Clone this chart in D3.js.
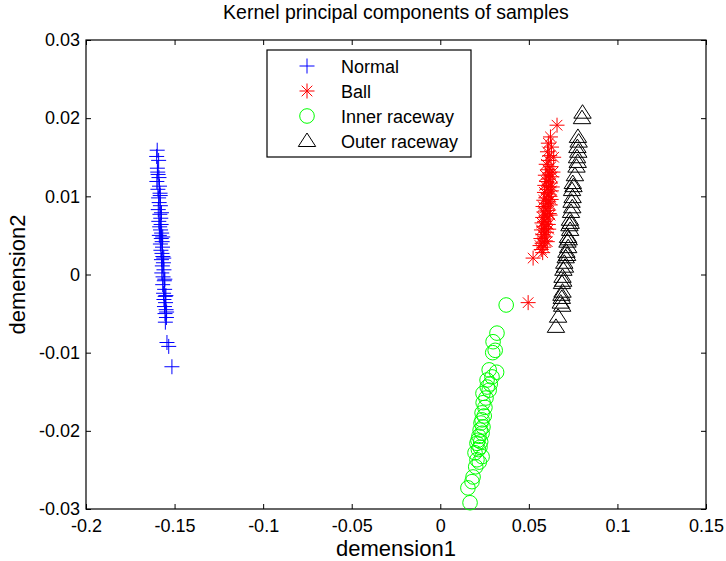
<!DOCTYPE html>
<html>
<head>
<meta charset="utf-8">
<script src="https://cdn.jsdelivr.net/npm/d3@7"></script>
<style>
  body { margin: 0; background: #fff; }
  svg text { font-family: "Liberation Sans", Arial, sans-serif; }
</style>
</head>
<body>
<svg id="chart" width="726" height="561"></svg>
<script>
// x, y pairs
const normal = [
  [-0.1598,0.0159],[-0.1601,0.0151],[-0.1590,0.0146],[-0.1597,0.0136],[-0.1593,0.0128],
  [-0.1588,0.0124],[-0.1600,0.0119],[-0.1585,0.0113],[-0.1594,0.0109],[-0.1582,0.0104],
  [-0.1590,0.0098],[-0.1587,0.0092],[-0.1580,0.0088],[-0.1592,0.0083],[-0.1583,0.0077],
  [-0.1578,0.0072],[-0.1589,0.0068],[-0.1576,0.0064],[-0.1584,0.0061],[-0.1579,0.0057],
  [-0.1573,0.0053],[-0.1586,0.0050],[-0.1575,0.0046],[-0.1570,0.0042],[-0.1580,0.0039],
  [-0.1568,0.0035],[-0.1577,0.0031],[-0.1571,0.0027],[-0.1566,0.0023],[-0.1574,0.0019],
  [-0.1563,0.0015],[-0.1569,0.0011],[-0.1560,0.0006],[-0.1572,0.0002],[-0.1565,-0.0003],
  [-0.1558,-0.0008],[-0.1567,-0.0013],[-0.1556,-0.0019],[-0.1562,-0.0024],[-0.1553,-0.0028],
  [-0.1560,-0.0032],[-0.1551,-0.0036],[-0.1557,-0.0041],[-0.1548,-0.0045],[-0.1554,-0.0050],
  [-0.1546,-0.0055],[-0.1552,-0.0061],[-0.1543,-0.0087],[-0.1533,-0.0092],[-0.1515,-0.0118],
  [-0.1595,0.0131],[-0.1581,0.0101],[-0.1574,0.0079],[-0.1567,0.0048],[-0.1561,0.0021],
  [-0.1555,-0.0006],[-0.1549,-0.0027],[-0.1545,-0.0048]
];
const ball = [
  [0.0659,0.0191],[0.0622,0.0176],[0.0610,0.0168],[0.0628,0.0163],[0.0605,0.0157],
  [0.0618,0.0152],[0.0612,0.0146],[0.0598,0.0141],[0.0625,0.0138],[0.0606,0.0134],
  [0.0617,0.0130],[0.0593,0.0127],[0.0630,0.0125],[0.0611,0.0122],[0.0600,0.0119],
  [0.0622,0.0117],[0.0590,0.0114],[0.0614,0.0112],[0.0603,0.0109],[0.0627,0.0107],
  [0.0588,0.0105],[0.0609,0.0103],[0.0619,0.0100],[0.0596,0.0098],[0.0584,0.0095],
  [0.0612,0.0093],[0.0601,0.0091],[0.0621,0.0089],[0.0580,0.0087],[0.0593,0.0085],
  [0.0607,0.0082],[0.0585,0.0080],[0.0615,0.0078],[0.0597,0.0075],[0.0578,0.0073],
  [0.0604,0.0071],[0.0589,0.0068],[0.0574,0.0066],[0.0610,0.0064],[0.0583,0.0061],
  [0.0595,0.0059],[0.0571,0.0057],[0.0600,0.0054],[0.0579,0.0051],[0.0588,0.0048],
  [0.0568,0.0046],[0.0593,0.0043],[0.0575,0.0040],[0.0563,0.0037],[0.0584,0.0035],
  [0.0570,0.0032],[0.0524,0.0021],[0.0496,-0.0036],
  [0.0636,0.0131],[0.0632,0.0112],[0.0626,0.0096],[0.0620,0.0076],[0.0612,0.0058],
  [0.0604,0.0042],[0.0640,0.0150],[0.0578,0.0028]
];
const inner = [
  [0.0372,-0.0039],[0.0320,-0.0075],[0.0298,-0.0086],[0.0310,-0.0097],[0.0296,-0.0100],
  [0.0318,-0.0125],[0.0276,-0.0122],[0.0292,-0.0131],[0.0264,-0.0135],[0.0282,-0.0140],
  [0.0265,-0.0144],[0.0276,-0.0148],[0.0241,-0.0152],[0.0258,-0.0158],[0.0242,-0.0164],
  [0.0252,-0.0170],[0.0236,-0.0177],[0.0248,-0.0181],[0.0236,-0.0186],[0.0230,-0.0190],
  [0.0241,-0.0195],[0.0225,-0.0199],[0.0236,-0.0203],[0.0218,-0.0207],[0.0213,-0.0212],
  [0.0228,-0.0214],[0.0207,-0.0216],[0.0224,-0.0221],[0.0215,-0.0224],[0.0196,-0.0228],
  [0.0236,-0.0233],[0.0207,-0.0237],[0.0220,-0.0240],[0.0200,-0.0246],[0.0185,-0.0259],
  [0.0179,-0.0265],[0.0156,-0.0273],[0.0168,-0.0292]
];
const outer = [
  [0.0800,0.0200],[0.0803,0.0207],[0.0777,0.0176],[0.0781,0.0170],[0.0774,0.0163],
  [0.0779,0.0157],[0.0772,0.0150],[0.0776,0.0144],[0.0769,0.0138],[0.0760,0.0127],
  [0.0748,0.0117],[0.0752,0.0113],[0.0744,0.0108],[0.0747,0.0099],[0.0741,0.0093],
  [0.0745,0.0086],[0.0738,0.0080],[0.0732,0.0070],[0.0736,0.0066],[0.0729,0.0063],
  [0.0733,0.0057],[0.0721,0.0048],[0.0725,0.0045],[0.0718,0.0042],[0.0722,0.0035],
  [0.0712,0.0029],[0.0716,0.0025],[0.0708,0.0022],[0.0700,0.0015],[0.0704,0.0010],
  [0.0695,0.0006],[0.0690,-0.0003],[0.0694,-0.0008],[0.0687,-0.0011],[0.0690,-0.0022],
  [0.0684,-0.0026],[0.0686,-0.0030],[0.0680,-0.0036],[0.0688,-0.0040],[0.0665,-0.0054],
  [0.0653,-0.0067]
];
const seriesNames = ['Normal', 'Ball', 'Inner raceway', 'Outer raceway'];
const xTicks = [-0.2, -0.15, -0.1, -0.05, 0, 0.05, 0.1, 0.15];
const yTicks = [-0.03, -0.02, -0.01, 0, 0.01, 0.02, 0.03];

const svg = d3.select('#chart');
const plotLeft = 86, plotRight = 706, plotTop = 40, plotBottom = 509;

const x = d3.scaleLinear().domain([-0.2, 0.15]).range([plotLeft, plotRight]);
const y = d3.scaleLinear().domain([-0.03, 0.03]).range([plotBottom, plotTop]);

const fmt = (d) => d === 0 ? '0' : String(d);

// axes, ticks pointing inward
svg.append('g')
    .attr('transform', 'translate(0,' + plotBottom + ')')
    .call(d3.axisBottom(x).tickValues(xTicks).tickFormat(fmt).tickSizeInner(-5).tickSizeOuter(0).tickPadding(10))
    .call(g => g.select('.domain').remove());
svg.append('g')
    .attr('transform', 'translate(0,' + plotTop + ')')
    .call(d3.axisTop(x).tickValues(xTicks).tickFormat('').tickSizeInner(-5).tickSizeOuter(0))
    .call(g => g.select('.domain').remove());
svg.append('g')
    .attr('transform', 'translate(' + plotLeft + ',0)')
    .call(d3.axisLeft(y).tickValues(yTicks).tickFormat(fmt).tickSizeInner(-5).tickSizeOuter(0).tickPadding(6))
    .call(g => g.select('.domain').remove());
svg.append('g')
    .attr('transform', 'translate(' + plotRight + ',0)')
    .call(d3.axisRight(y).tickValues(yTicks).tickFormat('').tickSizeInner(-5).tickSizeOuter(0))
    .call(g => g.select('.domain').remove());

svg.selectAll('.tick text')
    .style('font-size', '18px')
    .attr('fill', '#000');
svg.selectAll('.tick line').attr('stroke', '#000');

svg.append('rect')
    .attr('x', plotLeft).attr('y', plotTop)
    .attr('width', plotRight - plotLeft).attr('height', plotBottom - plotTop)
    .attr('fill', 'none').attr('stroke', '#000').attr('stroke-width', 1.2);

// marker shapes
const plusPath = 'M-7.5,0H7.5M0,-7.5V7.5';
const starPath = 'M-7.5,0H7.5M0,-7.5V7.5M-5.3,-5.3L5.3,5.3M-5.3,5.3L5.3,-5.3';
const triPath = 'M0,-8L8.7,5.5H-8.7Z';

const plot = svg.append('g');

plot.selectAll('path.normal').data(normal).enter().append('path')
    .attr('class', 'normal')
    .attr('d', plusPath)
    .attr('transform', d => 'translate(' + x(d[0]) + ',' + y(d[1]) + ')')
    .attr('stroke', '#0000ff').attr('fill', 'none');

plot.selectAll('path.ball').data(ball).enter().append('path')
    .attr('class', 'ball')
    .attr('d', starPath)
    .attr('transform', d => 'translate(' + x(d[0]) + ',' + y(d[1]) + ')')
    .attr('stroke', '#ff0000').attr('fill', 'none');

plot.selectAll('circle.inner').data(inner).enter().append('circle')
    .attr('class', 'inner')
    .attr('cx', d => x(d[0]))
    .attr('cy', d => y(d[1]))
    .attr('r', 7.3)
    .attr('stroke', '#00ff00').attr('fill', 'none');

plot.selectAll('path.outer').data(outer).enter().append('path')
    .attr('class', 'outer')
    .attr('d', triPath)
    .attr('transform', d => 'translate(' + x(d[0]) + ',' + y(d[1]) + ')')
    .attr('stroke', '#000').attr('fill', 'none');

// title and labels
svg.append('text')
    .attr('x', (plotLeft + plotRight) / 2).attr('y', 19)
    .attr('text-anchor', 'middle')
    .style('font-size', '19.5px')
    .text('Kernel principal components of samples');

svg.append('text')
    .attr('x', (plotLeft + plotRight) / 2).attr('y', 556)
    .attr('text-anchor', 'middle')
    .style('font-size', '22px')
    .text('demension1');

svg.append('text')
    .attr('transform', 'translate(25,' + (plotTop + plotBottom) / 2 + ') rotate(-90)')
    .attr('text-anchor', 'middle')
    .style('font-size', '22px')
    .text('demension2');

// legend
const legend = svg.append('g');
legend.append('rect')
    .attr('x', 267).attr('y', 50)
    .attr('width', 204).attr('height', 107)
    .attr('fill', '#fff').attr('stroke', '#000').attr('stroke-width', 1.2);

const legendMarks = [
  { d: plusPath, color: '#0000ff' },
  { d: starPath, color: '#ff0000' },
  { d: null, color: '#00ff00' },
  { d: triPath, color: '#000' }
];

const rows = legend.selectAll('g.row').data(seriesNames).enter().append('g')
    .attr('class', 'row')
    .attr('transform', (d, i) => 'translate(0,' + (66 + i * 25) + ')');

rows.each(function (d, i) {
    const g = d3.select(this);
    const m = legendMarks[i];
    if (m.d) {
        g.append('path').attr('d', m.d)
            .attr('transform', 'translate(307,0)')
            .attr('stroke', m.color).attr('fill', 'none');
    } else {
        g.append('circle').attr('cx', 307).attr('cy', 0).attr('r', 7.3)
            .attr('stroke', m.color).attr('fill', 'none');
    }
    g.append('text')
        .attr('x', 341).attr('y', 7)
        .style('font-size', '18px')
        .text(d);
});
</script>
</body>
</html>
